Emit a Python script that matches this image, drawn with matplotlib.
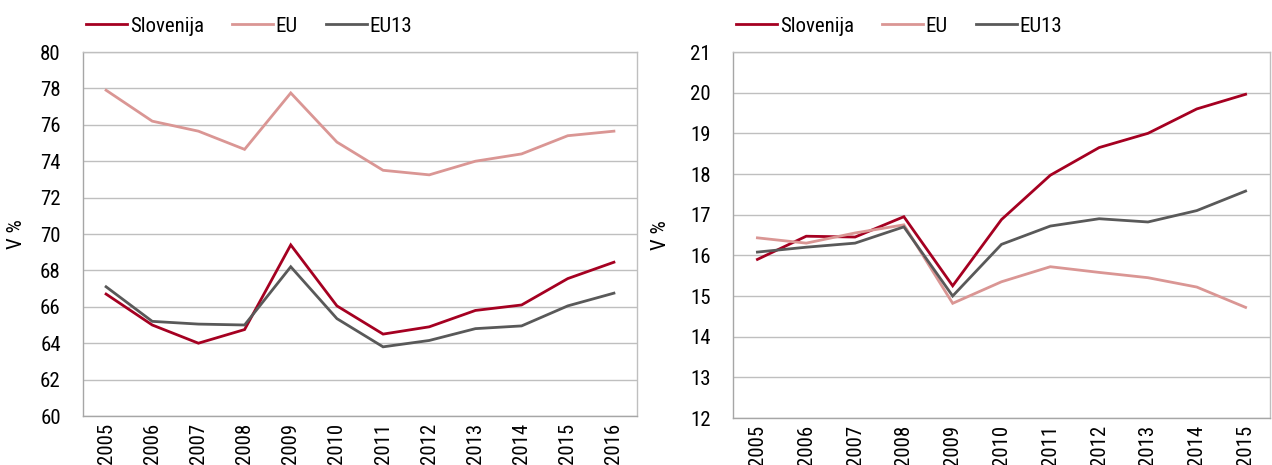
import matplotlib
matplotlib.use("Agg")
import matplotlib.pyplot as plt
from matplotlib import font_manager
from matplotlib.font_manager import FontProperties

# pick a condensed face if one is installed
cands = []
for f in font_manager.fontManager.ttflist:
    n = (f.name + " " + f.fname).lower()
    if ("narrow" in n or "condensed" in n) and "bold" not in n and "italic" not in n and "oblique" not in n:
        cands.append(f)
pref = ["liberation sans narrow", "roboto condensed", "open sans condensed", "dejavu sans"]
chosen = None
for p in pref:
    for f in cands:
        if p in (f.name + " " + f.fname).lower().replace("-", " ").replace("_", " "):
            chosen = f
            break
    if chosen:
        break
if chosen is None and cands:
    chosen = cands[0]

if chosen is not None:
    FP = dict(fname=chosen.fname)
    SIZE = 15
else:
    FP = dict(family=["Open Sans", "DejaVu Sans"])
    SIZE = 13

def fp(size=SIZE):
    return FontProperties(size=size, **FP)

series_names = ["Slovenija", "EU", "EU13"]
colors = ["#A50021", "#DA9694", "#595959"]

years_left = ["2005", "2006", "2007", "2008", "2009", "2010", "2011", "2012",
              "2013", "2014", "2015", "2016"]
left_slo = [66.7, 65.0, 64.0, 64.75, 69.4, 66.05, 64.5, 64.9, 65.8, 66.1, 67.55, 68.45]
left_eu = [77.9, 76.2, 75.65, 74.65, 77.75, 75.05, 73.5, 73.25, 74.0, 74.4, 75.4, 75.65]
left_eu13 = [67.1, 65.2, 65.05, 65.0, 68.2, 65.35, 63.8, 64.15, 64.8, 64.95, 66.05, 66.75]

years_right = ["2005", "2006", "2007", "2008", "2009", "2010", "2011", "2012",
               "2013", "2014", "2015"]
right_slo = [15.9, 16.47, 16.45, 16.95, 15.25, 16.88, 17.97, 18.65, 19.0, 19.6, 19.96]
right_eu = [16.43, 16.3, 16.55, 16.75, 14.82, 15.35, 15.72, 15.58, 15.45, 15.22, 14.72]
right_eu13 = [16.08, 16.2, 16.3, 16.7, 15.0, 16.27, 16.72, 16.9, 16.82, 17.1, 17.58]

ylabel = "V %"

fig = plt.figure(figsize=(12.72, 4.65), dpi=100)
ax1 = fig.add_axes([83/1272, 49/465, 554/1272, 364/465])
ax2 = fig.add_axes([733/1272, 47/465, 537/1272, 366/465])

def style(ax, cats, data, ylim, yticks, wpx):
    x = list(range(len(cats)))
    for name, vals, c in zip(series_names, data, colors):
        ax.plot(x, vals, color=c, lw=2.0, label=name, solid_joinstyle='miter')
    ax.set_xlim(-0.5, len(cats) - 0.5)
    ax.set_ylim(*ylim)
    ax.set_yticks(yticks)
    ax.set_yticklabels([str(t) for t in yticks], fontproperties=fp())
    ax.set_xticks(x)
    ax.set_xticklabels(cats, rotation=90, fontproperties=fp())
    ax.tick_params(axis='y', length=0, pad=16)
    ax.tick_params(axis='x', length=0, pad=5)
    ax.grid(axis='y', color='#BFBFBF', lw=1.0)
    ax.set_axisbelow(True)
    for s in ax.spines.values():
        s.set_color('#BFBFBF')
        s.set_linewidth(1.0)
    ax.spines['bottom'].set_color('#A6A6A6')
    ax.spines['left'].set_color('#A6A6A6')
    ax.set_ylabel(ylabel, fontproperties=fp())
    ax.legend(loc='lower left', bbox_to_anchor=(3/wpx, 1.045), ncol=3, frameon=False,
              prop=fp(), handlelength=1.95, handletextpad=0.15, columnspacing=1.35,
              borderaxespad=0, borderpad=0)

style(ax1, years_left, [left_slo, left_eu, left_eu13], (60, 80), list(range(60, 81, 2)), 554)
style(ax2, years_right, [right_slo, right_eu, right_eu13], (12, 21), list(range(12, 22)), 537)
ax1.yaxis.set_label_coords(-57/554, 0.5)
ax2.yaxis.set_label_coords(-63/537, 0.5)

fig.savefig("out.png", dpi=100)
